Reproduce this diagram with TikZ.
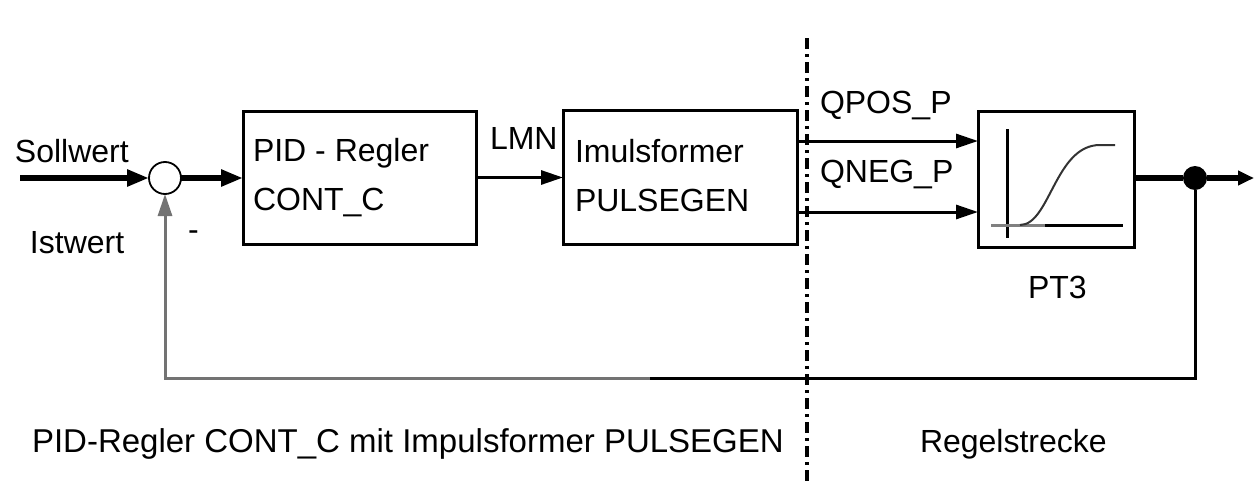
\documentclass[tikz,border=0pt]{standalone}
\usepackage{fontspec}
\setmainfont{Liberation Sans}
\usetikzlibrary{arrows.meta}
\begin{document}
\begin{tikzpicture}[x=1pt,y=-1pt,
  every node/.style={font=\fontsize{32}{38}\selectfont, inner sep=0pt, outer sep=0pt},
  lbl/.style={anchor=base west},
  blk/.style={draw, line width=3pt, anchor=north west},
  sig/.style={line width=6pt},
  thinsig/.style={line width=3pt},
  tipbig/.style={-{Triangle[length=22pt,width=16pt]}},
  tipsmall/.style={-{Triangle[length=22pt,width=14pt]}},
  divider/.style={line width=3.5pt, dash pattern=on 11pt off 5pt on 3pt off 5pt}
]
\useasboundingbox (0,0) rectangle (1254,482);

% blocks
\node[blk, minimum width=233pt, minimum height=133pt] (pid) at (243,111) {};
\node[blk, minimum width=234pt, minimum height=134pt] (imp) at (563,110) {};
\node[blk, minimum width=156pt, minimum height=136pt] (pt) at (978,111) {};
\node[circle, draw, line width=1.8pt, minimum size=32pt] (sum) at (165,178) {};
\node[circle, fill, minimum size=24pt] (dot) at (1195,178) {};

% texts
\node[lbl] (tsoll) at (15,162) {Sollwert};
\node[lbl] (tist) at (30,253) {Istwert};
\node[lbl] (tminus) at (188,240) {-};
\node[lbl] (tpid1) at (253,161) {PID - Regler};
\node[lbl] (tpid2) at (253,210) {CONT\_C};
\node[lbl] (tlmn) at (490,149) {LMN};
\node[lbl] (timp1) at (575,162) {Imulsformer};
\node[lbl] (timp2) at (575,211) {PULSEGEN};
\node[lbl] (tqpos) at (820,113) {QPOS\_P};
\node[lbl] (tqneg) at (820,182) {QNEG\_P};
\node[lbl] (tpt3) at (1028,298) {PT3};
\node[lbl, font=\fontsize{33}{38}\selectfont] (tb1) at (32,452) {PID-Regler CONT\_C mit Impulsformer PULSEGEN};
\node[lbl] (tb2) at (920,452) {Regelstrecke};

% coordinates
\coordinate (in) at (20,178);
\coordinate (out) at (1254,178);
\coordinate (fbr) at (1195,378);
\coordinate (fbm) at (650,378);
\coordinate (dtop) at (807,38);
\coordinate (dbot) at (807,482);

% signals
\draw[sig, tipbig] (in) -- (sum.west);
\draw[sig, tipbig] (sum.east) -- (sum.east -| pid.west);
\draw[thinsig, tipsmall] (pid.east) -- (pid.east -| imp.west);
\draw[thinsig, tipsmall] ([yshift=36pt]imp.east) -- ([yshift=36pt]imp.east -| pt.west);
\draw[thinsig, tipsmall] ([yshift=-35pt]imp.east) -- ([yshift=-35pt]imp.east -| pt.west);
\draw[sig] (pt.east |- dot) -- (dot);
\draw[sig, -{Triangle[length=16pt,width=14pt]}] (dot) -- (out);
\draw[thinsig] (dot) -- (fbr) -- (fbm);
\draw[thinsig, black!55, tipsmall] (fbm) -| (sum.south);

% divider
\draw[divider] (dtop) -- (dbot);

% step response inside PT3
\draw[line width=3pt] (1007,129) -- (1007,238);
\draw[line width=3pt, black!50] (991,225) -- (1045,225);
\draw[line width=3pt] (1045,225) -- (1123,225);
\draw[line width=2pt, black!80] (1020,225) .. controls (1050,225) and (1055,145) .. (1100,145) -- (1115,145);
\end{tikzpicture}
\end{document}
